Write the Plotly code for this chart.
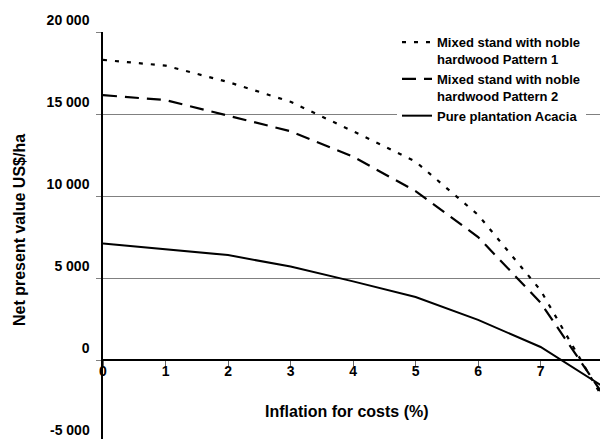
import plotly.graph_objects as go

# ---- data ----
inflation = [0, 1, 2, 3, 4, 5, 6, 7, 8]
pattern1 = [18300, 17950, 16950, 15750, 13950, 12100, 8850, 4250, -2350]
pattern2 = [16150, 15850, 14900, 13950, 12400, 10300, 7500, 3500, -2100]
acacia = [7100, 6750, 6400, 5700, 4800, 3850, 2450, 800, -1620]

names = [
    "Mixed stand with noble<br>hardwood Pattern 1",
    "Mixed stand with noble<br>hardwood Pattern 2",
    "Pure plantation Acacia",
]

y_tickvals = [0, 5000, 10000, 15000, 20000]
y_ticktext = ["0", "5 000", "10 000", "15 000", "20 000"]
y_extra_val = -5000
y_extra_text = "-5 000"
x_tickvals = [0, 1, 2, 3, 4, 5, 6, 7]

x_range = [0, 7.95]
y_range = [-4810, 20000]

FONT = "Liberation Sans, Arial, sans-serif"

fig = go.Figure()
fig.add_trace(go.Scatter(x=inflation, y=pattern1, mode="lines", name=names[0],
                         line=dict(color="black", width=2.2, dash="4px,8px")))
fig.add_trace(go.Scatter(x=inflation, y=pattern2, mode="lines", name=names[1],
                         line=dict(color="black", width=2.2, dash="14px,8px")))
fig.add_trace(go.Scatter(x=inflation, y=acacia, mode="lines", name=names[2],
                         line=dict(color="black", width=2)))

zero_pos = (0 - y_range[0]) / (y_range[1] - y_range[0])
extra_pos = (y_extra_val - y_range[0]) / (y_range[1] - y_range[0])

fig.update_layout(
    width=600, height=439,
    margin=dict(l=103, r=0, t=32, b=0),
    paper_bgcolor="white", plot_bgcolor="white",
    font=dict(family=FONT, color="black"),
    showlegend=True,
    legend=dict(
        x=(397 - 103) / 497, y=1.012, xanchor="left", yanchor="top",
        bgcolor="white", borderwidth=0, valign="top",
        font=dict(family=FONT, size=13, weight=700, color="black"),
        tracegroupgap=0, itemwidth=30,
    ),
    xaxis=dict(
        range=x_range, anchor="free", position=zero_pos,
        showline=True, linecolor="black", linewidth=1.5,
        showgrid=False, zeroline=False,
        tickmode="array", tickvals=x_tickvals,
        ticks="outside", ticklen=5, tickcolor="#666666",
        tickfont=dict(family=FONT, size=14, weight=700, color="black"),
        ticklabelstandoff=-7,
    ),
    yaxis=dict(
        range=y_range,
        showline=True, linecolor="black", linewidth=1.5,
        showgrid=True, gridcolor="#808080", gridwidth=1,
        zeroline=False,
        tickmode="array", tickvals=y_tickvals, ticktext=y_ticktext,
        ticks="outside", ticklen=5, tickcolor="#808080",
        tickfont=dict(family=FONT, size=14, weight=700, color="black"),
        ticklabelshift=-12, ticklabelstandoff=4,
    ),
    annotations=[
        dict(text=y_extra_text, xref="paper", yref="paper", x=0, y=extra_pos,
             xanchor="right", yanchor="middle", xshift=-11, yshift=12, showarrow=False,
             font=dict(family=FONT, size=14, weight=700, color="black")),
        dict(text="Net present value US$/ha", xref="paper", yref="paper",
             x=(19 - 103) / 497, y=(439 - 230) / 407, textangle=-90,
             xanchor="center", yanchor="middle", showarrow=False,
             font=dict(family=FONT, size=16, weight=700, color="black")),
        dict(text="Inflation for costs (%)", xref="paper", yref="paper",
             x=(347 - 103) / 497, y=(439 - 411) / 407,
             xanchor="center", yanchor="middle", showarrow=False,
             font=dict(family=FONT, size=16, weight=700, color="black")),
    ],
)

# remove the browser's default 8px page margin so the 600x439 figure fills the window
fig.write_html(
    "out.html",
    config={"displayModeBar": False},
    post_script="document.body.style.margin='0';document.body.style.overflow='hidden';",
)
